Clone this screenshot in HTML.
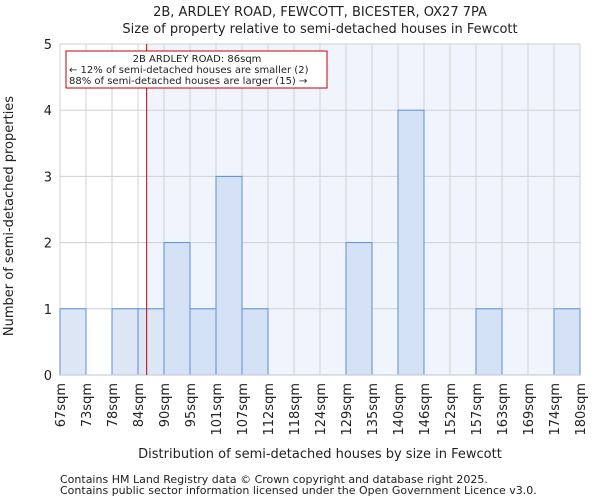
<!DOCTYPE html>
<html><head><meta charset="utf-8"><style>
body{margin:0;background:#fff;font-family:"DejaVu Sans","Liberation Sans",sans-serif;}
svg text{font-family:"DejaVu Sans","Liberation Sans",sans-serif;fill:#222;}
</style></head><body>
<svg id="chart" width="600" height="500" xmlns="http://www.w3.org/2000/svg">
<text x="320" y="16" font-size="13" text-anchor="middle">2B, ARDLEY ROAD, FEWCOTT, BICESTER, OX27 7PA</text>
<text x="320" y="33" font-size="13" text-anchor="middle">Size of property relative to semi-detached houses in Fewcott</text>
<g id="plot"></g>
<text x="320" y="458" font-size="13" text-anchor="middle">Distribution of semi-detached houses by size in Fewcott</text>
<text transform="translate(13,216) rotate(-90)" font-size="13" text-anchor="middle">Number of semi-detached properties</text>
<text x="60" y="483" font-size="11">Contains HM Land Registry data © Crown copyright and database right 2025.</text>
<text x="60" y="494" font-size="11">Contains public sector information licensed under the Open Government Licence v3.0.</text>
</svg>
<script>
const binLabels=["67sqm","73sqm","78sqm","84sqm","90sqm","95sqm","101sqm","107sqm","112sqm","118sqm","124sqm","129sqm","135sqm","140sqm","146sqm","152sqm","157sqm","163sqm","169sqm","174sqm","180sqm"];
const binEdges=[67,73,78,84,90,95,101,107,112,118,124,129,135,140,146,152,157,163,169,174,180];
const counts=[1,0,1,1,2,1,3,1,0,0,0,2,0,4,0,0,1,0,0,1];
const yTicks=[0,1,2,3,4,5];
const subjectSize=86;
const subjectBin=3;
const subjectFrac=(86-84)/(90-84);

const NS="http://www.w3.org/2000/svg";
const L=60,R=580,T=44,B=375,yMax=5;
const n=counts.length,bw=(R-L)/n;
const xi=i=>L+i*bw;
const y=v=>B-(B-T)*v/yMax;
const g=document.getElementById('plot');
function mk(t,a){const e=document.createElementNS(NS,t);for(const k in a)e.setAttribute(k,a[k]);g.appendChild(e);return e;}
const rx=xi(subjectBin)+subjectFrac*bw;
let e=mk('rect',{x:L,y:T,width:R-L,height:B-T,fill:'#fff'});


e=mk('rect',{x:rx,y:T,width:R-rx,height:B-T,fill:'#f0f4fc'});


for(let i=0;i<=n;i++){e=mk('line',{x1:xi(i),x2:xi(i),y1:T,y2:B,stroke:'#d0d0d0','stroke-width':1});

}
yTicks.forEach(v=>{e=mk('line',{x1:L,x2:R,y1:y(v),y2:y(v),stroke:'#d0d0d0','stroke-width':1});


e=mk('text',{x:L-8,y:y(v)+5,'font-size':13,'text-anchor':'end'});e.textContent=v;

});
counts.forEach((c,i)=>{if(!c)return;
e=mk('rect',{x:xi(i),y:y(c),width:bw,height:B-y(c),fill:i<=subjectBin?'#dce6f4':'#d5e1f4',stroke:'#5b8fd6','stroke-width':1});

});
e=mk('line',{x1:L,x2:R,y1:B,y2:B,stroke:'#c8d0dc','stroke-width':1.2});


binLabels.forEach((l,i)=>{const x=xi(i);
e=mk('text',{transform:`translate(${x+5},${B+8}) rotate(-90)`,'font-size':13,'text-anchor':'end'});e.textContent=l;

});
e=mk('line',{x1:rx,x2:rx,y1:T,y2:B,stroke:'#c00000','stroke-width':1});


e=mk('rect',{x:66,y:51,width:261,height:37,fill:'#fff',stroke:'#c00000','stroke-width':1});


[["2B ARDLEY ROAD: "+subjectSize+"sqm",62,'middle',197],["← 12% of semi-detached houses are smaller (2)",73,'start',69],["88% of semi-detached houses are larger (15) →",84,'start',69]].forEach(([t,yy,a,xx])=>{
e=mk('text',{x:xx,y:yy,'font-size':10,'text-anchor':a});e.textContent=t;

});
</script>
</body></html>
